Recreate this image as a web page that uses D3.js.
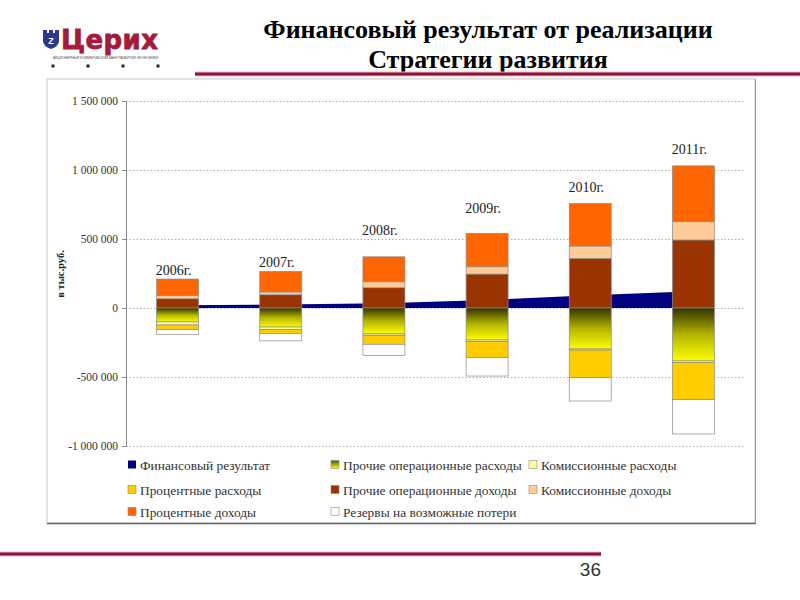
<!DOCTYPE html>
<html><head><meta charset="utf-8">
<script src="https://cdn.jsdelivr.net/npm/d3@7"></script>
<style>body{margin:0;background:#fff}svg{display:block}</style>
</head><body>
<svg id="c" width="800" height="600"></svg>
<script>
// ---- data ----
const years = ["2006г.", "2007г.", "2008г.", "2009г.", "2010г.", "2011г."];
const finResult      = [20000, 25000, 35000, 58000, 92000, 122000];
const otherOpIncome  = [67000, 96000, 147000, 246000, 360000, 493000];
const commIncome     = [24000, 20000, 43000, 53000, 89000, 133000];
const interestIncome = [119000, 149000, 181000, 242000, 309000, 404000];
const otherOpExp     = [-101000, -138000, -188000, -232000, -297000, -384000];
const commExp        = [-22000, -18000, -10000, -12000, -8000, -10000];
const interestExp    = [-33000, -28000, -65000, -116000, -200000, -270000];
const reserves       = [-35000, -54000, -80000, -133000, -169000, -249000];
const labelLevels    = [239000, 297000, 529000, 688000, 840000, 1116000];
const yTicks = [-1000000, -500000, 0, 500000, 1000000, 1500000];
const legendNames = ["Финансовый результат","Прочие операционные расходы","Комиссионные расходы",
  "Процентные расходы","Прочие операционные доходы","Комиссионные доходы",
  "Процентные доходы","Резервы на возможные потери"];

const svg = d3.select("#c");
const serif = "'Liberation Serif','Times New Roman',serif";
const defs = svg.append("defs");
const g1 = defs.append("linearGradient").attr("id","gradOp").attr("x1",0).attr("y1",0).attr("x2",0).attr("y2",1);
g1.append("stop").attr("offset","0%").attr("stop-color","#333300");
g1.append("stop").attr("offset","50%").attr("stop-color","#b3b300");
g1.append("stop").attr("offset","100%").attr("stop-color","#ffff00");

// ---- header ----
svg.append("text").attr("x",488).attr("y",38).attr("text-anchor","middle")
  .attr("font-family",serif).attr("font-weight","bold").attr("font-size",26).attr("fill","#000")
  .text("Финансовый результат от реализации");
svg.append("text").attr("x",488).attr("y",68).attr("text-anchor","middle")
  .attr("font-family",serif).attr("font-weight","bold").attr("font-size",26).attr("fill","#000")
  .text("Стратегии развития");
function redLine(x1,x2,y){
  svg.append("rect").attr("x",x1).attr("y",y-2.5).attr("width",x2-x1).attr("height",5).attr("fill","#f3b6c4");
  svg.append("rect").attr("x",x1).attr("y",y-1.5).attr("width",x2-x1).attr("height",3).attr("fill","#8a1538");
}
redLine(195,800,74);
redLine(0,601,554);
svg.append("text").attr("x",601).attr("y",576).attr("text-anchor","end")
  .attr("font-family","'Liberation Sans',Arial,sans-serif").attr("font-size",19).attr("fill","#333").text("36");

// logo
svg.append("path").attr("d","M43,30 L47,30 L47,33 L49,33 L49,30 L53,30 L53,33 L55,33 L55,30 L59,30 L59,41 Q59,46 51,49 Q43,46 43,41 Z")
  .attr("fill","#2b3990");
svg.append("text").attr("x",51).attr("y",44).attr("text-anchor","middle").attr("font-family","'Liberation Sans',Arial,sans-serif")
  .attr("font-weight","bold").attr("font-size",9).attr("fill","#fff").text("Z");
svg.append("text").attr("x",61).attr("y",49).attr("font-family","'DejaVu Sans',Arial,sans-serif")
  .attr("font-weight","bold").attr("font-size",26).attr("fill","#a31d3a").attr("stroke","#a31d3a").attr("stroke-width",0.8)
  .attr("textLength",97).text("Церих");
svg.append("text").attr("x",53).attr("y",59).attr("font-family","'Liberation Sans',Arial,sans-serif")
  .attr("font-size",3.5).attr("fill","#555").attr("textLength",105).text("АКЦИОНЕРНЫЙ КОММЕРЧЕСКИЙ БАНК РАЗВИТИЯ ЭКОНОМИКИ");
[53,88,123,158].forEach(x=>svg.append("rect").attr("x",x-1.5).attr("y",64.5).attr("width",3).attr("height",3).attr("fill","#222"));

// ---- chart frame ----
svg.append("rect").attr("x",47).attr("y",79).attr("width",708).attr("height",444)
  .attr("fill","#fff").attr("stroke","#c8c8c8").attr("stroke-width",1);
svg.append("line").attr("x1",47).attr("x2",756).attr("y1",523.5).attr("y2",523.5).attr("stroke","#666").attr("stroke-width",1.5);
svg.append("line").attr("x1",755.5).attr("x2",755.5).attr("y1",79).attr("y2",524).attr("stroke","#999").attr("stroke-width",1);

const x = d3.scaleBand().domain(years).range([126,745]).padding(0);
const y = d3.scaleLinear().domain([-1000000,1500000]).range([446,101]);
const bw = 42;

const loc = d3.formatLocale({decimal:",",thousands:"\u00a0",grouping:[3],currency:["",""],minus:"-"});
const fmt = loc.format(",d");

// gridlines
svg.append("g").selectAll("line").data(yTicks).join("line")
  .attr("x1",126).attr("x2",745).attr("y1",d=>Math.round(y(d))+0.5).attr("y2",d=>Math.round(y(d))+0.5)
  .attr("stroke","#9a9a9a").attr("stroke-width",0.8).attr("stroke-dasharray","1.5,2");

// axis
const yAxis = d3.axisLeft(y).tickValues(yTicks).tickFormat(fmt).tickSize(4).tickPadding(4);
const ax = svg.append("g").attr("transform","translate(126,0)").call(yAxis);
ax.select(".domain").attr("stroke","#888");
ax.selectAll(".tick line").attr("stroke","#888");
ax.selectAll(".tick text").attr("font-family",serif).attr("font-size",11.5).attr("fill","#333");
ax.selectAll(".tick").attr("transform",d=>`translate(0,${Math.round(y(d))+0.5})`);

svg.append("text").attr("transform","translate(64,274) rotate(-90)").attr("text-anchor","middle")
  .attr("font-family",serif).attr("font-weight","bold").attr("font-size",10.5).attr("fill","#222").text("в тыс.руб.");

// area: financial result
const cx = d => x(d) + x.bandwidth()/2;
const area = d3.area().x((d,i)=>cx(years[i])).y0(y(0)).y1(d=>y(d));
svg.append("path").datum(finResult).attr("d",area).attr("fill","#000080");

// stacked bars
const posSeries = [
  {vals:otherOpIncome, fill:"#993300"},
  {vals:commIncome, fill:"#ffcc99"},
  {vals:interestIncome, fill:"#ff6600"}];
const negSeries = [
  {vals:otherOpExp, fill:"url(#gradOp)"},
  {vals:commExp, fill:"#ffff99"},
  {vals:interestExp, fill:"#ffcc00"},
  {vals:reserves, fill:"#ffffff"}];
const bars = svg.append("g");
years.forEach((yr,i)=>{
  let acc = 0;
  posSeries.forEach(s=>{
    const v = s.vals[i];
    bars.append("rect").attr("x",cx(yr)-bw/2).attr("width",bw)
      .attr("y",y(acc+v)).attr("height",y(acc)-y(acc+v))
      .attr("fill",s.fill).attr("stroke","#8c8c8c").attr("stroke-width",0.7);
    acc += v;
  });
  acc = 0;
  negSeries.forEach(s=>{
    const v = s.vals[i];
    bars.append("rect").attr("x",cx(yr)-bw/2).attr("width",bw)
      .attr("y",y(acc)).attr("height",y(acc+v)-y(acc))
      .attr("fill",s.fill).attr("stroke","#8c8c8c").attr("stroke-width",0.7);
    acc += v;
  });
});

// year labels
svg.append("g").selectAll("text").data(years).join("text")
  .attr("x",d=>cx(d)-4).attr("y",(d,i)=>y(labelLevels[i])).attr("text-anchor","middle")
  .attr("font-family",serif).attr("font-size",14).attr("fill","#222").text(d=>d);

// legend
const legFills = ["#000080","url(#gradLeg)","#ffff99","#ffcc00","#993300","#ffcc99","#ff6600","#ffffff"];
const g2 = defs.append("linearGradient").attr("id","gradLeg").attr("x1",0).attr("y1",0).attr("x2",0).attr("y2",1);
g2.append("stop").attr("offset","0%").attr("stop-color","#555500");
g2.append("stop").attr("offset","100%").attr("stop-color","#ffff00");
const colX = [128,331,529], rowY = [465,490,512];
const leg = svg.append("g");
legendNames.forEach((n,i)=>{
  const cxp = colX[i%3], cyp = rowY[Math.floor(i/3)];
  leg.append("rect").attr("x",cxp).attr("y",cyp-4.5).attr("width",8).attr("height",8)
    .attr("fill",legFills[i]).attr("stroke",i===0?"none":"#888").attr("stroke-width",0.6);
  leg.append("text").attr("x",cxp+12).attr("y",cyp+4.5).attr("font-family",serif).attr("font-size",13.4)
    .attr("fill","#333").text(n);
});
</script>
</body></html>
